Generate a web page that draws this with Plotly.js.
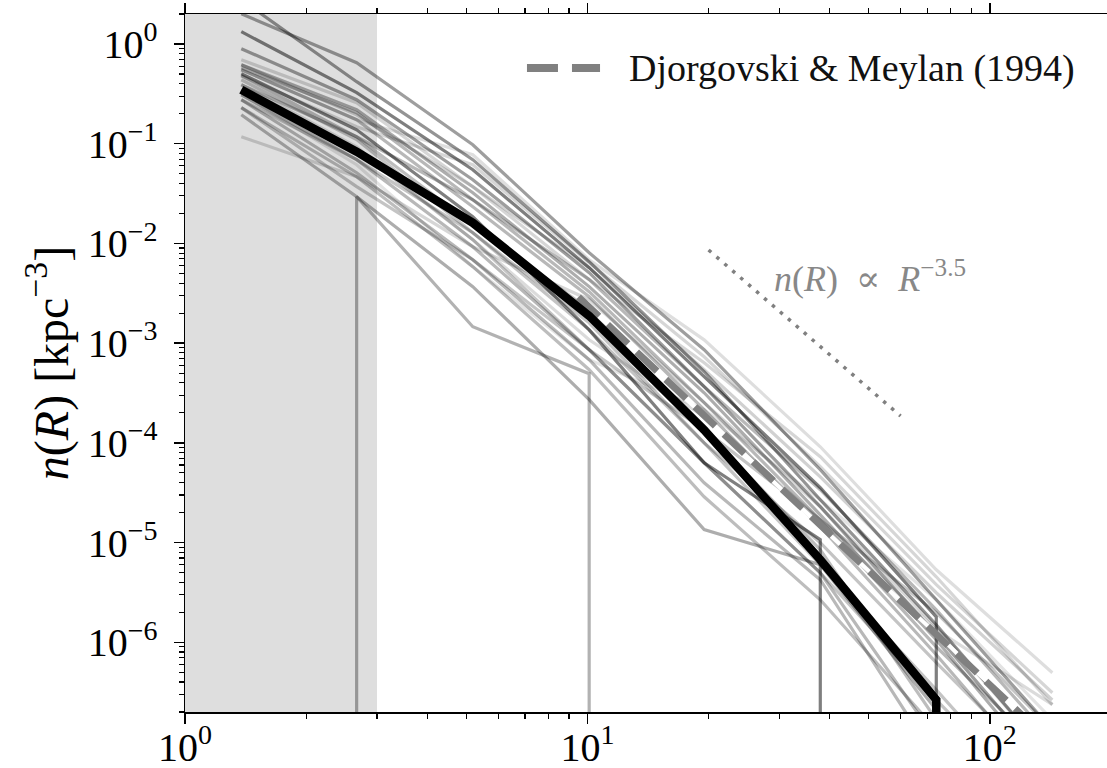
<!DOCTYPE html>
<html><head><meta charset="utf-8">
<script src="https://cdn.plot.ly/plotly-3.0.1.min.js"></script>
<style>html,body{margin:0;padding:0;overflow:hidden;background:#fff}#chart{width:1120px;height:768px}</style>
</head><body><div id="chart"></div>
<script>
// radial bin centres [kpc]
const radiusBins = [1.38, 2.67, 5.19, 10.1, 19.5, 37.9, 73.6, 143];

// individual halo profiles n(R) [kpc^-3] (0 = empty bin)
const haloProfiles = [
  [2.78, 0.419, 0.0692, 0.00656, 5.17e-4, 2.69e-5, 1.50e-6, 6.64e-8],
  [2.01, 0.649, 0.0977, 0.00807, 8.59e-4, 5.38e-5, 2.67e-6, 1.33e-7],
  [1.33, 0.325, 0.0548, 0.00571, 4.61e-4, 3.55e-5, 1.80e-6, 0],
  [0.897, 0.276, 0.0436, 0.00509, 3.66e-4, 2.29e-5, 1.19e-6, 5.27e-8],
  [0.696, 0.258, 0.0371, 0.00434, 6.37e-4, 7.26e-5, 4.54e-6, 2.37e-7],
  [0.620, 0.219, 0.0323, 0.00369, 3.18e-4, 1.90e-5, 1.06e-6, 4.19e-8],
  [0.578, 0.205, 0.0274, 0.00328, 2.53e-4, 1.69e-5, 9.02e-7, 6.64e-8],
  [0.552, 0.174, 0.0233, 0.00292, 2.15e-4, 1.44e-5, 7.50e-7, 3.33e-8],
  [0.504, 0.138, 0.0185, 0.00136, 6.32e-5, 1.07e-5, 0, 0],
  [0.481, 0.1175, 0.0154, 0.00217, 1.35e-4, 8.48e-6, 1.67e-7, 8.3e-9],
  [0.438, 0.110, 0.0128, 0.00160, 1.00e-4, 6.00e-6, 3.34e-7, 1.66e-8],
  [0.391, 0.0933, 0.0109, 0.00108, 1.83e-4, 1.69e-5, 1.34e-6, 2.37e-7],
  [0.310, 0.0692, 0.00927, 8.59e-4, 6.32e-5, 4.98e-6, 1.05e-7, 6.6e-9],
  [0.276, 0.0512, 0.00687, 6.82e-4, 3.98e-5, 4.24e-6, 6.64e-8, 6.6e-9],
  [0.230, 0.0467, 0.00585, 5.42e-4, 2.88e-5, 2.67e-6, 1.33e-7, 8.3e-9],
  [0.195, 0.0294, 0.00146, 4.94e-4, 0, 0, 0, 0],
  [0.1175, 0.0467, 0.00927, 0.00273, 2.53e-4, 2.29e-5, 1.43e-6, 6.64e-8],
  [0, 0.0294, 0.00369, 2.71e-4, 1.35e-5, 6.00e-6, 2.11e-7, 1.32e-8],
  [0.276, 0.0692, 0.0128, 0.00136, 1.00e-4, 9.96e-6, 6.24e-7, 4.19e-8],
  [0.552, 0.174, 0.0776, 0.00687, 1.08e-3, 9.14e-5, 5.34e-6, 4.95e-7],
  [0.481, 0.148, 0.0616, 0.00641, 7.31e-4, 5.77e-5, 3.78e-6, 3.12e-7],
  [0.620, 0.195, 0.0371, 0.00571, 5.42e-4, 4.57e-5, 3.14e-6, 2.65e-7],
  [0.391, 0.1175, 0.0274, 0.00434, 3.66e-4, 3.39e-5, 2.12e-6, 1.05e-7],
  [0.348, 0.0871, 0.0109, 8.59e-4, 6.32e-5, 4.98e-6, 2.65e-7, 1.66e-8],
  [0.310, 0.0616, 0.00585, 6.82e-4, 2.15e-4, 2.69e-5, 2.67e-6, 1.67e-7],
  [0.230, 0.0371, 0.00687, 8.59e-4, 1.35e-4, 1.69e-5, 1.98e-6, 1.33e-7]
];
const haloOpacity = [0.42, 0.38, 0.50, 0.38, 0.16, 0.32, 0.28, 0.28, 0.50, 0.26, 0.23, 0.14, 0.28,
                     0.28, 0.26, 0.30, 0.16, 0.32, 0.23, 0.13, 0.16, 0.18, 0.28, 0.23, 0.11, 0.23];

// mean profile
const meanProfile = [0.348, 0.0832, 0.0161, 0.00188, 1.35e-4, 6.73e-6, 2.65e-7, 0];

// Djorgovski & Meylan (1994)
const djorgovskiR = [9.5, 20, 40, 80, 125];
const djorgovskiN = [2.9e-3, 1.7e-4, 1.2e-5, 8.9e-7, 1.6e-7];

// R^-3.5 guide
const guideR = [20, 60];
const guideN = [8.6e-3, 1.86e-4];

// shaded inner region [kpc]
const shadedRange = [1, 3];

const xTickVals = [1, 10, 100];
const xTickText = ['10<sup>0</sup>', '10<sup>1</sup>', '10<sup>2</sup>'];
const yTickVals = [1, 0.1, 0.01, 1e-3, 1e-4, 1e-5, 1e-6];
const yTickText = ['10<sup>0</sup>', '10<sup>−1</sup>', '10<sup>−2</sup>', '10<sup>−3</sup>',
                   '10<sup>−4</sup>', '10<sup>−5</sup>', '10<sup>−6</sup>'];

const xRange = [1, 200];
const yRange = [2e-7, 2];

// Empty bins: as on a log axis, the line drops straight down out of the frame
const FLOOR = yRange[0] / 100;
function logClip(xs, ys) {
  const X = [], Y = [];
  ys.forEach((v, i) => {
    if (v > 0) { X.push(xs[i]); Y.push(v); return; }
    const prevPos = i > 0 && ys[i - 1] > 0;
    const nextPos = i < ys.length - 1 && ys[i + 1] > 0;
    if (prevPos) { X.push(xs[i - 1]); Y.push(FLOOR); }
    if (nextPos) { X.push(xs[i + 1]); Y.push(FLOOR); }
    if (!prevPos && !nextPos) { X.push(null); Y.push(null); }
  });
  return {x: X, y: Y};
}

function minorTicks(lo, hi) {
  const out = [];
  for (let e = Math.floor(Math.log10(lo)); e <= Math.ceil(Math.log10(hi)); e++) {
    for (let m = 2; m <= 9; m++) {
      const v = m * Math.pow(10, e);
      if (v >= lo * 0.999 && v <= hi * 1.001) out.push(v);
    }
  }
  return out;
}

const SERIF = '"Liberation Serif", "DejaVu Serif", serif';
const traces = [];

haloProfiles.forEach((prof, i) => {
  const p = logClip(radiusBins, prof);
  traces.push({
    x: p.x, y: p.y, type: 'scatter', mode: 'lines', connectgaps: false,
    line: {color: 'rgba(0,0,0,' + haloOpacity[i] + ')', width: 3.2, simplify: false},
    hoverinfo: 'skip', showlegend: false
  });
});

traces.push({
  x: djorgovskiR, y: djorgovskiN, type: 'scatter', mode: 'lines',
  line: {color: '#ffffff', width: 4}, hoverinfo: 'skip', showlegend: false
});
traces.push({
  x: djorgovskiR, y: djorgovskiN, type: 'scatter', mode: 'lines',
  name: 'Djorgovski & Meylan (1994)',
  line: {color: '#808080', width: 7, dash: '28px,12px'}, showlegend: false
});
const mp = logClip(radiusBins, meanProfile);
traces.push({
  x: mp.x, y: mp.y, type: 'scatter', mode: 'lines',
  line: {color: '#000000', width: 8.5, simplify: false}, showlegend: false
});
traces.push({
  x: guideR, y: guideN, type: 'scatter', mode: 'lines',
  line: {color: '#808080', width: 3.5, dash: '3.5px,7px'}, showlegend: false
});

const layout = {
  width: 1120, height: 768,
  margin: {l: 185, r: 9, t: 14, b: 56},
  paper_bgcolor: '#ffffff', plot_bgcolor: '#ffffff',
  showlegend: false,
  font: {family: SERIF, color: '#000'},
  xaxis: {
    type: 'log', range: xRange.map(Math.log10),
    tickmode: 'array', tickvals: xTickVals, ticktext: xTickText,
    ticks: 'outside', ticklen: 10, tickwidth: 1.5, tickcolor: '#000',
    ticklabelstandoff: -11,
    minor: {tickvals: minorTicks(xRange[0], xRange[1]), ticks: 'outside', ticklen: 5, tickwidth: 1.2, tickcolor: '#000', showgrid: false},
    showline: true, linecolor: '#000', linewidth: 1.5, mirror: 'ticks',
    showgrid: false, zeroline: false,
    tickfont: {family: SERIF, size: 40, color: '#000'}
  },
  yaxis: {
    type: 'log', range: yRange.map(Math.log10),
    tickmode: 'array', tickvals: yTickVals, ticktext: yTickText,
    ticks: 'outside', ticklen: 10, tickwidth: 1.5, tickcolor: '#000',
    ticklabelstandoff: 8,
    minor: {tickvals: minorTicks(yRange[0], yRange[1]), ticks: 'outside', ticklen: 5, tickwidth: 1.2, tickcolor: '#000', showgrid: false},
    showline: true, linecolor: '#000', linewidth: 1.5, mirror: 'ticks',
    showgrid: false, zeroline: false,
    tickfont: {family: SERIF, size: 40, color: '#000'},
    title: {text: '<i>n</i>(<i>R</i>) [kpc<sup>−3</sup>]', font: {family: SERIF, size: 48, color: '#000'}, standoff: 4}
  },
  shapes: [
    {type: 'rect', xref: 'x', yref: 'paper', x0: shadedRange[0], x1: shadedRange[1], y0: 0, y1: 1,
     fillcolor: '#dedede', line: {width: 0}, layer: 'below'},
    {type: 'line', xref: 'paper', yref: 'paper', x0: 0.3693, x1: 0.4482, y0: 0.9226, y1: 0.9226,
     line: {color: '#808080', width: 8, dash: '31px,14px'}}
  ],
  annotations: [
    {xref: 'paper', yref: 'paper', x: 0.7203, y: 0.9226, xanchor: 'center', yanchor: 'middle',
     text: 'Djorgovski &amp; Meylan (1994)', showarrow: false,
     font: {family: SERIF, size: 38, color: '#111'}},
    {xref: 'paper', yref: 'paper', x: 0.7397, y: 0.6246, xanchor: 'center', yanchor: 'middle',
     text: '<i>n</i>(<i>R</i>)  ∝  <i>R</i><sup>−3.5</sup>', showarrow: false,
     font: {family: SERIF, size: 36, color: '#888888'}}
  ]
};

Plotly.newPlot('chart', traces, layout, {displayModeBar: false, staticPlot: true});
</script>
</body></html>
